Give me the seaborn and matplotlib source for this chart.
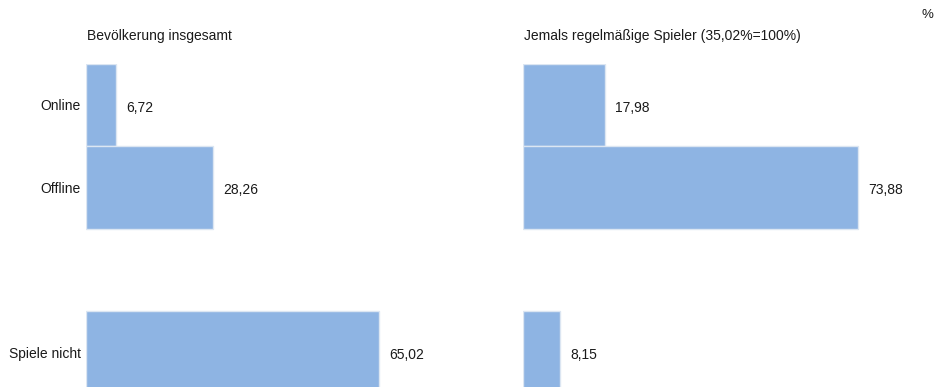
import matplotlib
matplotlib.use("Agg")
import matplotlib.pyplot as plt
import seaborn as sns
import pandas as pd

categories = ["Online", "Offline", "Spiele nicht"]
bevoelkerung = [6.72, 28.26, 65.02]
spieler = [17.98, 73.88, 8.15]
titles = ["Bevölkerung insgesamt", "Jemals regelmäßige Spieler (35,02%=100%)"]
order = ["Online", "Offline", " ", "Spiele nicht"]

sns.set_theme(style="white")
plt.rcParams["font.family"] = ["Liberation Sans", "DejaVu Sans"]

W, H = 935, 387
fig = plt.figure(figsize=(W / 100, H / 100), dpi=100)

top_px = 63.5
pitch = 82.5
ax_w = 400
panels = [(86, bevoelkerung, 4.506, True), (523, spieler, 4.534, False)]
color = "#8EB4E3"
fs = 10
tc = "#1a1a1a"

for i, (left_px, vals, scale, show_labels) in enumerate(panels):
    ax = fig.add_axes([left_px / W, 0, ax_w / W, 1 - top_px / H])
    df = pd.DataFrame({"cat": categories, "val": vals})
    sns.barplot(data=df, x="val", y="cat", order=order, orient="h", width=1.0,
                color=color, saturation=1, edgecolor="#DCE6F2", linewidth=1.0, ax=ax)
    ax.set_xlim(0, ax_w / scale)
    ax.set_ylim(-0.5 + (H - top_px) / pitch, -0.5)
    for s in ax.spines.values():
        s.set_visible(False)
    ax.set_xticks([])
    ax.set_xlabel("")
    ax.set_ylabel("")
    if show_labels:
        ax.tick_params(axis="y", length=0, pad=3.6, labelsize=fs, labelcolor=tc)
    else:
        ax.set_yticks([])
    for c, v in zip(categories, vals):
        y = order.index(c)
        ax.annotate(f"{v:.2f}".replace(".", ","), xy=(v, y), xytext=(10, -3),
                    textcoords="offset pixels", ha="left", va="center",
                    fontsize=fs, color=tc)
    fig.text((left_px + 1) / W, 1 - 36 / H, titles[i], ha="left", va="center",
             fontsize=fs, color=tc)

fig.text(933.5 / W, 1 - 15 / H, "%", ha="right", va="center", fontsize=9.5, color=tc)

fig.savefig("out.png", dpi=100)
